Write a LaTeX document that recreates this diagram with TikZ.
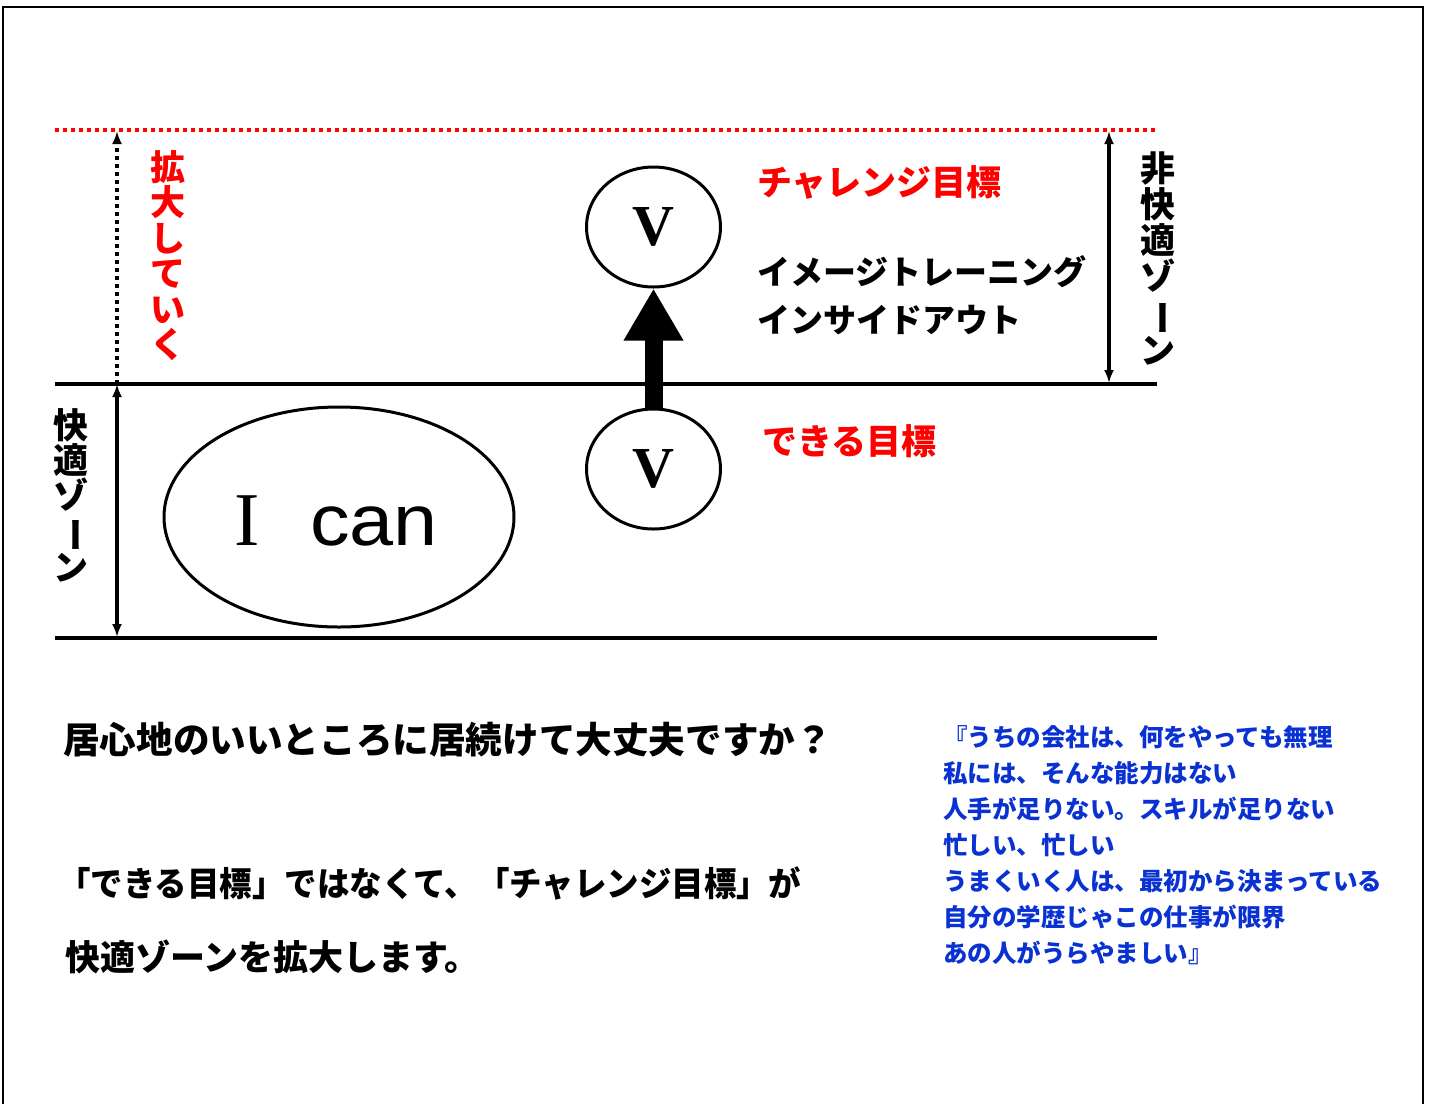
\documentclass[tikz,border=0pt]{standalone}
\usepackage{fontspec}
\usepackage{graphicx}
\setmainfont{Liberation Sans}
\newfontfamily\jp{Noto Sans CJK JP}
\newfontfamily\serifv{Liberation Serif}
\usetikzlibrary{arrows.meta,shapes.geometric}
\definecolor{qblue}{RGB}{10,50,210}
\newcommand{\vbar}{\rotatebox[origin=c]{-90}{ー}}
\tikzset{
  zone/.style={line width=3.5pt},
  dimarrow/.style={line width=3.5pt,{Latex[length=13pt,width=10pt]}-{Latex[length=13pt,width=10pt]}},
  dotarrow/.style={line width=4pt,dash pattern=on 4pt off 4pt,-{Latex[length=13pt,width=10pt]}},
  vcircle/.style={ellipse,draw,line width=3pt,minimum width=134pt,minimum height=120pt,inner sep=0pt,
     font=\serifv\bfseries\fontsize{58}{60}\selectfont},
  jptext/.style={anchor=west,inner sep=0pt,font=\jp\bfseries\fontsize{#1}{#1}\selectfont},
  vtext/.style={inner sep=0pt,align=center,font=\jp\bfseries\fontsize{35}{#1}\selectfont},
}
\begin{document}
\begin{tikzpicture}[x=1pt,y=-1pt]
\useasboundingbox[fill=white] (0,0) rectangle (1432,1104);
% frame
\draw[line width=2.5pt] (3,1104) -- (3,7) -- (1423,7) -- (1423,1104);
% zone lines
\coordinate (rl) at (55,130); \coordinate (rr) at (1157,130);
\coordinate (ml) at (55,384); \coordinate (mr) at (1157,384);
\coordinate (bl) at (55,638); \coordinate (br) at (1157,638);
\draw[red,line width=3.5pt,dash pattern=on 4pt off 4pt] (rl) -- (rr);
\draw[zone] (ml) -- (mr);
\draw[zone] (bl) -- (br);
% dimension arrows
\coordinate (a1) at (117,384); \coordinate (a2) at (117,131);
\coordinate (a3) at (117,637);
\draw[dotarrow] (a1) -- (a2);
\draw[dimarrow] (a1) -- (a3);
\coordinate (b1) at (1109,131); \coordinate (b2) at (1109,383);
\draw[dimarrow] (b1) -- (b2);
% vertical labels
\node[vtext=35.5pt,red,anchor=north] (kakudai) at (168,150) {拡\\大\\し\\て\\い\\く};
\node[vtext=35pt,anchor=north] (kaiteki) at (71,408) {快\\適\\ゾ\\\vbar\\ン};
\node[vtext=36pt,anchor=north] (hikaiteki) at (1158,152) {非\\快\\適\\ゾ\\\vbar\\ン};
% I can
\node[ellipse,draw,line width=3pt,minimum width=350pt,minimum height=220pt,inner sep=0pt] (ican) at (339,517) {};
\node[inner sep=0pt,anchor=base west] (itext) at (234,545) {\serifv\fontsize{76}{76}\selectfont I};
\node[inner sep=0pt,anchor=base west,font=\fontsize{72}{72}\selectfont] (can) at (310,545) {\scalebox{1.1}[1]{can}};
% V circles
\node[vcircle] (vtop) at (653.5,227) {V};
\node[vcircle] (vbot) at (653.5,469) {V};
\draw[line width=18pt,-{Triangle[length=52pt,width=56pt]}] (vbot.north) -- (vtop.south);
% labels
\node[jptext=35,red] (challenge) at (757,182) {チャレンジ目標};
\node[jptext=33] (image) at (757,272) {イメージトレーニング};
\node[jptext=33] (inside) at (757,320) {インサイドアウト};
\node[jptext=35,red] (dekiru) at (762,441) {できる目標};
% bottom texts
\node[jptext=36.6] (q1) at (63,740) {居心地のいいところに居続けて大丈夫ですか？};
\node[jptext=34] (q2) at (58,883) {\scalebox{0.955}[1]{「できる目標」ではなくて、「チャレンジ目標」が}};
\node[jptext=35] (q3) at (65,957) {快適ゾーンを拡大します。};
% blue quote
\node[anchor=north west,inner sep=0pt,align=left,text=qblue,font=\jp\bfseries\fontsize{24.5}{36}\selectfont] (quote) at (943,725)
 {『うちの会社は、何をやっても無理\\私には、そんな能力はない\\人手が足りない。スキルが足りない\\忙しい、忙しい\\うまくいく人は、最初から決まっている\\自分の学歴じゃこの仕事が限界\\あの人がうらやましい』};
\end{tikzpicture}
\end{document}
